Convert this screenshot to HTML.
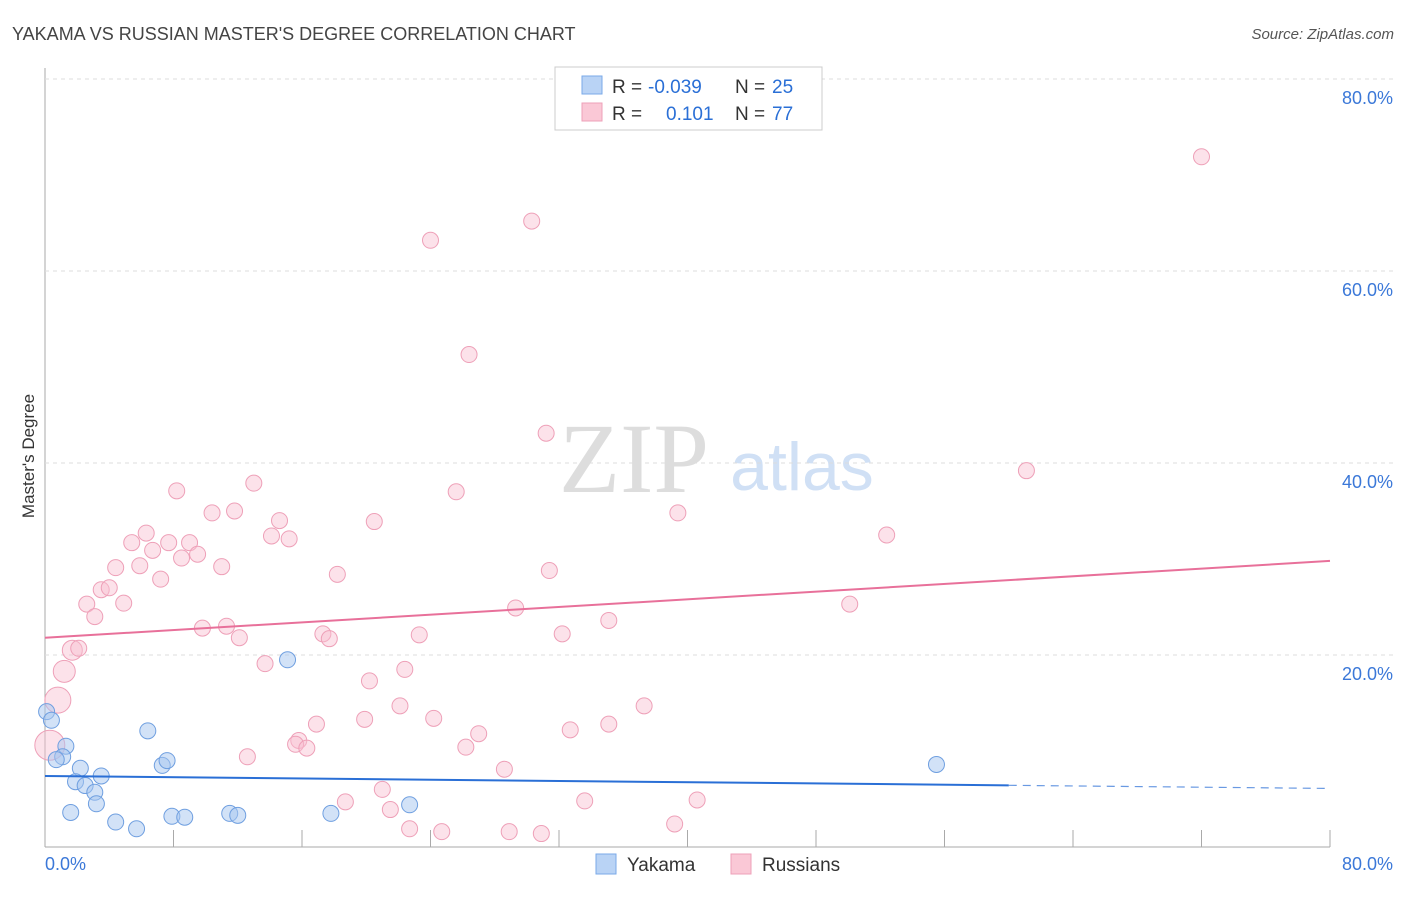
<!DOCTYPE html>
<html><head><meta charset="utf-8"><style>
body{margin:0;background:#fff;font-family:"Liberation Sans",sans-serif;}
</style></head><body>
<svg width="1406" height="892" xmlns="http://www.w3.org/2000/svg">
<text x="12" y="40" font-size="18" fill="#444">YAKAMA VS RUSSIAN MASTER'S DEGREE CORRELATION CHART</text>
<text x="1394" y="39" font-size="15" fill="#555" font-style="italic" text-anchor="end">Source: ZipAtlas.com</text>
<text x="634" y="492" font-size="100" fill="#ddd" font-family="Liberation Serif,serif" text-anchor="middle">ZIP</text>
<text x="802" y="490" font-size="68" fill="#d0e0f5" text-anchor="middle">atlas</text>
<g id="grid"></g>
<g id="marks"></g>
<text transform="translate(34,456) rotate(-90)" font-size="17" fill="#333" text-anchor="middle">Master's Degree</text>
<g>
<rect x="555" y="67" width="267" height="63" fill="#fff" stroke="#ccc"/>
<rect x="582" y="76" width="20" height="18" fill="#b9d3f5" stroke="#7aaae8"/>
<rect x="582" y="103" width="20" height="18" fill="#fac8d6" stroke="#eea0b8"/>
<text x="612" y="93" font-size="19" fill="#333">R =</text>
<text x="648" y="93" font-size="19" fill="#2a6fd6">-0.039</text>
<text x="735" y="93" font-size="19" fill="#333">N =</text>
<text x="772" y="93" font-size="19" fill="#2a6fd6">25</text>
<text x="612" y="120" font-size="19" fill="#333">R =</text>
<text x="666" y="120" font-size="19" fill="#2a6fd6">0.101</text>
<text x="735" y="120" font-size="19" fill="#333">N =</text>
<text x="772" y="120" font-size="19" fill="#2a6fd6">77</text>
</g>
<g>
<rect x="596" y="854" width="20" height="20" fill="#b9d3f5" stroke="#7aaae8"/>
<text x="627" y="871" font-size="19" fill="#333">Yakama</text>
<rect x="731" y="854" width="20" height="20" fill="#fac8d6" stroke="#eea0b8"/>
<text x="762" y="871" font-size="19" fill="#333">Russians</text>
</g>
</svg>
<script>
const yTicks=[20,40,60,80];
const yTickLabels=["20.0%","40.0%","60.0%","80.0%"];
const xTickLabels=["0.0%","80.0%"];
const blueX=[0.1,0.4,1.3,1.1,0.7,2.2,3.5,1.9,2.5,3.1,3.2,1.6,4.4,5.7,6.4,7.3,7.6,7.9,8.7,11.5,12.0,15.1,17.8,22.7,55.5];
const blueY=[14.1,13.2,10.5,9.4,9.1,8.2,7.4,6.8,6.4,5.7,4.5,3.6,2.6,1.9,12.1,8.5,9.0,3.2,3.1,3.5,3.3,19.5,3.5,4.4,8.6];
const pinkX=[72.0,30.3,24.0,26.4,31.2,61.1,8.2,13.0,25.6,10.4,11.8,14.6,20.5,39.4,52.4,6.3,5.4,9.0,6.7,7.7,14.1,15.2,9.5,8.5,4.4,5.9,11.0,7.2,18.2,31.4,3.5,4.0,2.6,4.9,3.1,29.3,50.1,35.1,9.8,11.3,12.1,17.3,17.7,23.3,32.2,1.7,2.1,1.2,13.7,22.4,0.8,20.2,22.1,37.3,19.9,24.2,16.9,32.7,35.1,0.3,27.0,15.8,15.6,16.3,26.2,12.6,28.6,21.0,18.7,21.5,33.6,40.6,22.7,24.7,28.9,30.9,39.2];
const pinkY=[71.9,65.2,63.2,51.3,43.1,39.2,37.1,37.9,37.0,34.8,35.0,34.0,33.9,34.8,32.5,32.7,31.7,31.7,30.9,31.7,32.4,32.1,30.5,30.1,29.1,29.3,29.2,27.9,28.4,28.8,26.8,27.0,25.3,25.4,24.0,24.9,25.3,23.6,22.8,23.0,21.8,22.2,21.7,22.1,22.2,20.5,20.7,18.3,19.1,18.5,15.3,17.3,14.7,14.7,13.3,13.4,12.8,12.2,12.8,10.6,11.8,11.1,10.7,10.3,10.4,9.4,8.1,6.0,4.7,3.9,4.8,4.9,1.9,1.6,1.6,1.4,2.4];
const pinkR=[8,8,8,8,8,8,8,8,8,8,8,8,8,8,8,8,8,8,8,8,8,8,8,8,8,8,8,8,8,8,8,8,8,8,8,8,8,8,8,8,8,8,8,8,8,10,8,11,8,8,13,8,8,8,8,8,8,8,8,15,8,8,8,8,8,8,8,8,8,8,8,8,8,8,8,8,8];
const blueTrend=[7.4,6.1];
const pinkTrend=[21.8,29.8];
const X0=45,X1=1330,Y0=847,Y1=79;
const sx=v=>X0+(X1-X0)*v/80, sy=v=>Y0-(Y0-Y1)*v/80;
const NS="http://www.w3.org/2000/svg";
function mk(p,tag,at){const e=document.createElementNS(NS,tag);for(const k in at)e.setAttribute(k,at[k]);p.appendChild(e);return e;}
const g=document.getElementById('grid'),m=document.getElementById('marks');
let ax=mk(g,'line',{x1:X0,y1:68,x2:X0,y2:Y0,stroke:'#aaa'});

let bx=mk(g,'line',{x1:X0,y1:Y0,x2:X1,y2:Y0,stroke:'#aaa'});

yTicks.forEach((t,i)=>{
 let l=mk(g,'line',{x1:X0,y1:sy(t),x2:1394,y2:sy(t),stroke:'#ddd','stroke-dasharray':'4,4'});
 
 let tx=mk(g,'text',{x:1393,y:sy(t)+25,'font-size':18,fill:'#3b78d8','text-anchor':'end'});tx.textContent=yTickLabels[i];
 
});
for(let i=0;i<=10;i++){let l=mk(g,'line',{x1:sx(i*8),y1:830,x2:sx(i*8),y2:Y0,stroke:'#aaa'});
 }
[[45,'start'],[1393,'end']].forEach((p,i)=>{let t=mk(g,'text',{x:p[0],y:870,'font-size':18,fill:'#3b78d8','text-anchor':p[1]});t.textContent=xTickLabels[i];
 });
pinkX.forEach((x,i)=>{let c=mk(m,'circle',{cx:sx(x),cy:sy(pinkY[i]),r:pinkR[i],fill:'rgba(248,190,208,0.45)',stroke:'#eea0b8','stroke-width':1});
 });
blueX.forEach((x,i)=>{let c=mk(m,'circle',{cx:sx(x),cy:sy(blueY[i]),r:8,fill:'rgba(165,198,240,0.5)',stroke:'#6f9fe0','stroke-width':1});
 });
const by=x=>blueTrend[0]+(blueTrend[1]-blueTrend[0])*x/80;
let l1=mk(m,'line',{x1:sx(0),y1:sy(by(0)),x2:sx(60),y2:sy(by(60)),stroke:'#2a6fd6','stroke-width':2});

let l2=mk(m,'line',{x1:sx(60),y1:sy(by(60)),x2:sx(80),y2:sy(by(80)),stroke:'#2a6fd6','stroke-width':1.2,'stroke-dasharray':'8,6',opacity:0.7});

let l3=mk(m,'line',{x1:sx(0),y1:sy(pinkTrend[0]),x2:sx(80),y2:sy(pinkTrend[1]),stroke:'#e8709a','stroke-width':2});

</script>
</body></html>
